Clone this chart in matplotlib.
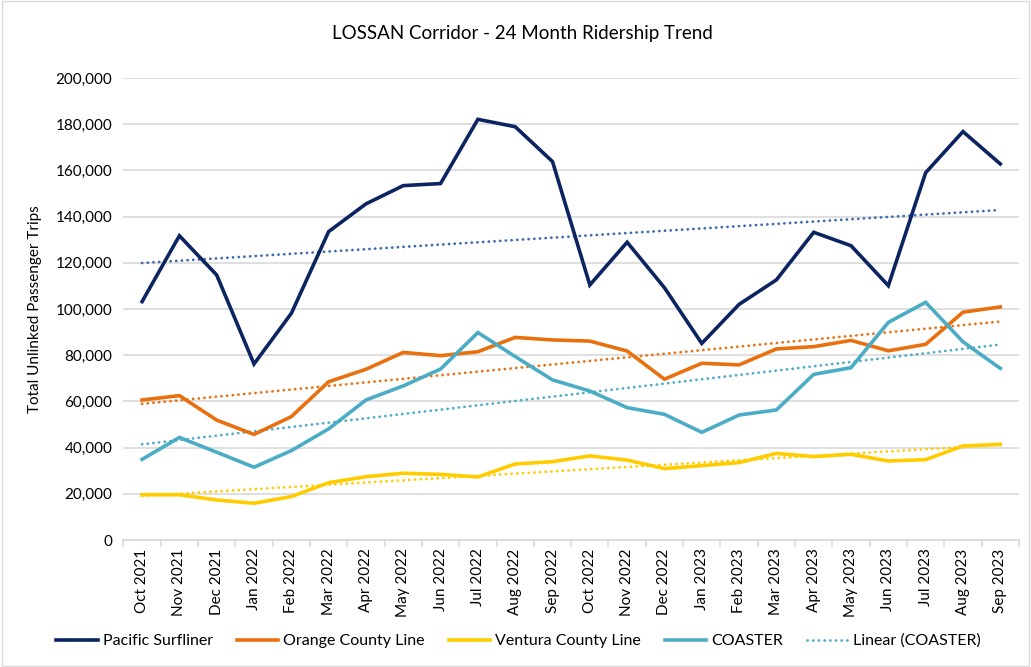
import numpy as np
import matplotlib
matplotlib.use("Agg")
from matplotlib import pyplot as plt
from matplotlib.patches import Rectangle

months = ["Oct 2021", "Nov 2021", "Dec 2021", "Jan 2022", "Feb 2022", "Mar 2022",
          "Apr 2022", "May 2022", "Jun 2022", "Jul 2022", "Aug 2022", "Sep 2022",
          "Oct 2022", "Nov 2022", "Dec 2022", "Jan 2023", "Feb 2023", "Mar 2023",
          "Apr 2023", "May 2023", "Jun 2023", "Jul 2023", "Aug 2023", "Sep 2023"]

pacific_surfliner = [103200, 131700, 114700, 76200, 98100, 133500,
                     145500, 153400, 154300, 182100, 178900, 163800,
                     110400, 128900, 109200, 85100, 102000, 112600,
                     133200, 127400, 110100, 159000, 176800, 162800]
orange_county = [60600, 62500, 51900, 45700, 53400, 68500,
                 73900, 81200, 79800, 81500, 87700, 86600,
                 86100, 81800, 69600, 76500, 75800, 82700,
                 83700, 86400, 81900, 84700, 98600, 100900]
ventura_county = [19600, 19600, 17300, 15900, 18800, 24800,
                  27400, 28900, 28400, 27300, 32900, 33900,
                  36400, 34600, 30900, 32200, 33500, 37500,
                  36100, 37100, 34200, 34800, 40700, 41400]
coaster = [34900, 44400, 38000, 31500, 38700, 48100,
           60600, 66700, 74000, 89800, 79400, 69300,
           64500, 57300, 54400, 46600, 54100, 56300,
           71700, 74600, 94200, 102900, 85800, 74300]

series = [
    ("Pacific Surfliner", pacific_surfliner, "#0c2461", "#4069b0"),
    ("Orange County Line", orange_county, "#e8700f", "#e8700f"),
    ("Ventura County Line", ventura_county, "#ffcc00", "#ffcc00"),
    ("COASTER", coaster, "#4bacc6", "#4bacc6"),
]

plt.rcParams['font.family'] = ['Lato', 'DejaVu Sans']

fig = plt.figure(figsize=(10.31, 6.67), dpi=100)
ax = fig.add_axes([0.1197, 0.1904, 0.8686, 0.6927])

x = np.arange(len(months))

trend_handle = None
for name, vals, color, tcolor in series:
    ax.plot(x, vals, color=color, lw=2.6, label=name, zorder=3, solid_joinstyle='miter')
    # excel style linear trendline (round dots)
    k, b = np.polyfit(x, vals, 1)
    tl, = ax.plot(x, k * x + b, color=tcolor, lw=2.0, linestyle=(0, (0.05, 2.0)),
                  dash_capstyle='round', zorder=2)
    if name == "COASTER":
        trend_handle = tl

ax.set_xlim(-0.5, len(months) - 0.5)
ax.set_ylim(0, 200000)
ax.set_yticks(np.arange(0, 200001, 20000))
ax.set_yticklabels([f"{v:,}" for v in range(0, 200001, 20000)], fontsize=11)
ax.yaxis.grid(True, color="#d9d9d9", lw=1.2)
ax.set_axisbelow(True)

ax.set_xticks(x)
ax.set_xticklabels(months, rotation=90, fontsize=11)
ax.set_xticks(np.arange(-0.5, len(months)), minor=True)
ax.tick_params(axis='x', which='major', length=0, pad=6)
ax.tick_params(axis='x', which='minor', length=5, color="#d9d9d9", width=1.2)
ax.tick_params(axis='y', length=0, pad=8)

for side in ["top", "right", "left"]:
    ax.spines[side].set_visible(False)
ax.spines["bottom"].set_color("#d9d9d9")
ax.spines["bottom"].set_linewidth(1.2)

ax.set_ylabel("Total Unlinked Passenger Trips", fontsize=11, labelpad=10)
fig.text(0.507, 0.95, "LOSSAN Corridor - 24 Month Ridership Trend", ha="center", va="center",
         fontsize=13.5)

handles, labels = ax.get_legend_handles_labels()
handles.append(trend_handle)
labels.append("Linear (COASTER)")
fig.legend(handles, labels, loc="center", bbox_to_anchor=(0.503, 0.039), ncol=5,
           frameon=False, fontsize=11.5, handlelength=2.6, columnspacing=1.5,
           handletextpad=0.3)

fig.add_artist(Rectangle((0.002, 0.002), 0.996, 0.996, transform=fig.transFigure,
                         fill=False, edgecolor="#d9d9d9", lw=1))

plt.savefig("out.png", dpi=100)
